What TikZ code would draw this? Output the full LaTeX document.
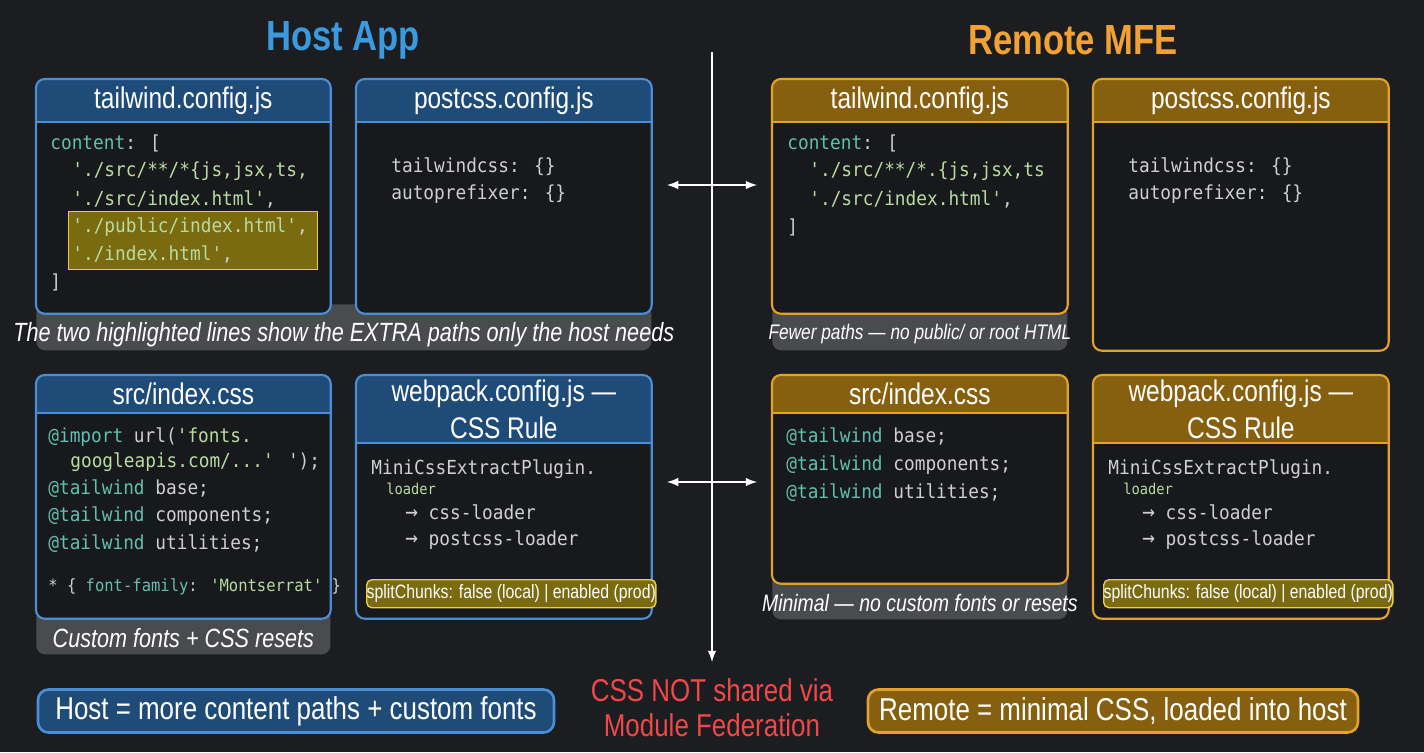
\documentclass[tikz,border=0pt]{standalone}
\usepackage{fontspec}
\setmainfont{Liberation Sans}[FakeStretch=0.82]
\newfontfamily\codefont{DejaVu Sans Mono}[FakeStretch=0.92]
\usetikzlibrary{positioning}
\definecolor{bg}{HTML}{1C1D21}
\definecolor{panelbg}{HTML}{18191C}
\definecolor{hosthead}{HTML}{1E4B78}
\definecolor{hostline}{HTML}{4A8FD6}
\definecolor{remhead}{HTML}{86600E}
\definecolor{remline}{HTML}{E3A22A}
\definecolor{hosttitle}{HTML}{3A9AE0}
\definecolor{remtitle}{HTML}{F2A235}
\definecolor{kw}{HTML}{5FC0B0}
\definecolor{str}{HTML}{B8DCA0}
\definecolor{plain}{HTML}{CFCFCF}
\definecolor{capbg}{HTML}{4A4B4E}
\definecolor{hl}{HTML}{7A6A10}
\definecolor{hlline}{HTML}{E8D040}
\definecolor{alert}{HTML}{F04848}
\tikzset{
    panel/.style = {draw = none, fill = panelbg, inner sep = 0pt},
    headtext/.style = {text = white, font = \fontsize{17}{21}\selectfont, align = center},
    code/.style = {anchor = west, inner sep = 0pt, text = plain, font = \codefont\fontsize{11}{13}\selectfont},
    caption/.style = {fill = capbg, rounded corners = 5pt, inner sep = 0pt},
    captext/.style = {text = white, font = \itshape\fontsize{15}{17}\selectfont},
    hilite/.style = {fill = hl, draw = hlline, line width = 0.8pt},
    line/.style = {-latex, white, line width = 1.2pt},
    twoway/.style = {latex-latex, white, line width = 1.2pt}
}
% name, x, y, width, height, header height, scheme, title
\newcommand{\panelbox}[8]{
    \node[panel, rounded corners = 5pt, minimum width = #4*0.02cm, minimum height = #5*0.02cm,
          anchor = north west] (#1) at (#2,#3) {};
    \fill[#7head, rounded corners = 5pt] (#1.north west) rectangle ([yshift = -#6*0.02cm]#1.east |- #1.north);
    \fill[#7head] ([yshift = -#6*0.01cm]#1.north west) rectangle ([yshift = -#6*0.02cm]#1.east |- #1.north);
    \draw[#7line, line width = 1.2pt] ([yshift = -#6*0.02cm]#1.north west) -- ([yshift = -#6*0.02cm]#1.east |- #1.north);
    \node[headtext] (#1Head) at ([yshift = -#6*0.01cm]#1.north) {#8};
    \draw[#7line, rounded corners = 5pt, line width = 1.2pt] (#1.north west) rectangle (#1.south east);
}
\begin{document}
\begin{tikzpicture}[x = 0.02cm, y = -0.02cm]

    \fill[bg] (0,0) rectangle (1424,752);
    \useasboundingbox (0,0) rectangle (1424,752);

    % Titles
    \node[text = hosttitle, font = \bfseries\fontsize{24}{26}\selectfont] (hostTitle) at (343,40) {Host App};
    \node[text = remtitle, font = \bfseries\fontsize{24}{26}\selectfont] (remTitle) at (1073,40) {Remote MFE};

    % Captions (behind panels)
    \node[caption, minimum width = 615*0.02cm, minimum height = 46*0.02cm, anchor = north west] (hCap) at (36,304) {};
    \node[captext] at ([yshift = -4pt]hCap.center) {The two highlighted lines show the EXTRA paths only the host needs};
    \node[caption, minimum width = 294*0.02cm, minimum height = 46*0.02cm, anchor = north west] (hCssCap) at (36,608) {};
    \node[captext] at ([yshift = -4pt]hCssCap.center) {Custom fonts + CSS resets};
    \node[caption, minimum width = 295*0.02cm, minimum height = 46*0.02cm, anchor = north west] (rCap) at (772,304) {};
    \node[captext, font = \itshape\fontsize{12}{14}\selectfont] at ([yshift = -4pt]rCap.center) {Fewer paths — no public/ or root HTML};
    \node[caption, minimum width = 295*0.02cm, minimum height = 46*0.02cm, anchor = north west] (rCssCap) at (772,573) {};
    \node[captext, font = \itshape\fontsize{13.5}{15}\selectfont] at ([yshift = -4pt]rCssCap.center) {Minimal — no custom fonts or resets};

    % Host panels
    \panelbox{hTw}{36}{79}{294}{234}{43}{host}{tailwind.config.js}
    \panelbox{hPost}{356}{79}{295}{234}{43}{host}{postcss.config.js}
    \panelbox{hCss}{36}{375}{294}{243}{38}{host}{src/index.css}
    \panelbox{hPack}{356}{375}{295}{243}{68}{host}{webpack.config.js —\\CSS Rule}

    % Remote panels
    \panelbox{rTw}{772}{79}{295}{234}{43}{rem}{tailwind.config.js}
    \panelbox{rPost}{1093}{79}{295}{271}{43}{rem}{postcss.config.js}
    \panelbox{rCss}{772}{375}{295}{208}{38}{rem}{src/index.css}
    \panelbox{rPack}{1093}{375}{295}{243}{68}{rem}{webpack.config.js —\\CSS Rule}

    % Host tailwind code
    \node[hilite, minimum width = 249*0.02cm, minimum height = 58*0.02cm, anchor = north west] (hHl) at (68,211) {};
    \node[code] (hTw1) at (50,143) {\textcolor{kw}{content}: [};
    \node[code] (hTw2) at (72,171) {\textcolor{str}{'./src/**/*\{js,jsx,ts,}};
    \node[code] (hTw3) at (72,199) {\textcolor{str}{'./src/index.html'},};
    \node[code] (hTw4) at (72,227) {\textcolor{str}{'./public/index.html'},};
    \node[code] (hTw5) at (72,254) {\textcolor{str}{'./index.html'},};
    \node[code] (hTw6) at (50,282) {]};

    % Postcss code
    \node[code] (hPost1) at (391,167) {tailwindcss: \{\}};
    \node[code] (hPost2) at (391,194) {autoprefixer: \{\}};
    \node[code] (rPost1) at (1128,167) {tailwindcss: \{\}};
    \node[code] (rPost2) at (1128,194) {autoprefixer: \{\}};

    % Remote tailwind code
    \node[code] (rTw1) at (787,143) {\textcolor{kw}{content}: [};
    \node[code] (rTw2) at (809,171) {\textcolor{str}{'./src/**/*.\{js,jsx,ts}};
    \node[code] (rTw3) at (809,199) {\textcolor{str}{'./src/index.html'},};
    \node[code] (rTw4) at (787,227) {]};

    % Host index.css code
    \node[code] (hCss1) at (48,437) {\textcolor{kw}{@import} url(\textcolor{str}{'fonts.}};
    \node[code] (hCss2) at (70,462) {\textcolor{str}{googleapis.com/...'} ');};
    \node[code] (hCss3) at (48,489) {\textcolor{kw}{@tailwind} base;};
    \node[code] (hCss4) at (48,516) {\textcolor{kw}{@tailwind} components;};
    \node[code] (hCss5) at (48,544) {\textcolor{kw}{@tailwind} utilities;};
    \node[code, font = \codefont\fontsize{9.6}{10}\selectfont] (hCss6) at (48,587)
        {* \{ \textcolor{kw}{font-family}: \textcolor{str}{'Montserrat'} \}};

    % Remote index.css code
    \node[code] (rCss1) at (786,437) {\textcolor{kw}{@tailwind} base;};
    \node[code] (rCss2) at (786,465) {\textcolor{kw}{@tailwind} components;};
    \node[code] (rCss3) at (786,493) {\textcolor{kw}{@tailwind} utilities;};

    % Webpack code
    \foreach \side/\dx in {h/0, r/737} {
        \node[code] (\side Pack1) at (371+\dx,469) {MiniCssExtractPlugin.};
        \node[code, text = str, font = \codefont\fontsize{8.5}{9}\selectfont] (\side Pack2) at (386+\dx,489) {loader};
        \node[code] (\side Pack3) at (405+\dx,512) {\fontsize{13}{13}\selectfont→\fontsize{11}{13}\selectfont{} css-loader};
        \node[code] (\side Pack4) at (405+\dx,540) {\fontsize{13}{13}\selectfont→\fontsize{11}{13}\selectfont{} postcss-loader};
        \node[hilite, rounded corners = 3pt, minimum width = 278*0.02cm, minimum height = 28*0.02cm, inner sep = 0pt,
              anchor = north west, text = white, font = \fontsize{11}{12}\selectfont] (\side Split) at (366+\dx,579)
            {splitChunks: false (local) | enabled (prod)};
    }

    % Divider and arrows
    \coordinate (divTop) at (712,52);
    \coordinate (divBot) at (712,662);
    \draw[line] (divTop) -- (divBot);
    \coordinate (cfgL) at (667,185);
    \coordinate (cfgR) at (757,185);
    \coordinate (cssL) at (667,482);
    \coordinate (cssR) at (757,482);
    \draw[twoway] (cfgL) -- (cfgR);
    \draw[twoway] (cssL) -- (cssR);

    % Bottom summary
    \node[draw = hostline, fill = hosthead, line width = 1.5pt, rounded corners = 6pt, minimum width = 516*0.02cm,
          minimum height = 43*0.02cm, text = white, font = \fontsize{18}{20}\selectfont] (hostSum) at (296,711)
        {Host = more content paths + custom fonts};
    \node[text = alert, align = center, font = \fontsize{18}{20}\selectfont] (shared) at (712,708)
        {CSS NOT shared via\\Module Federation};
    \node[draw = remline, fill = remhead, line width = 1.5pt, rounded corners = 6pt, minimum width = 490*0.02cm,
          minimum height = 43*0.02cm, text = white, font = \fontsize{18}{20}\selectfont] (remSum) at (1113,711)
        {Remote = minimal CSS, loaded into host};

\end{tikzpicture}
\end{document}
